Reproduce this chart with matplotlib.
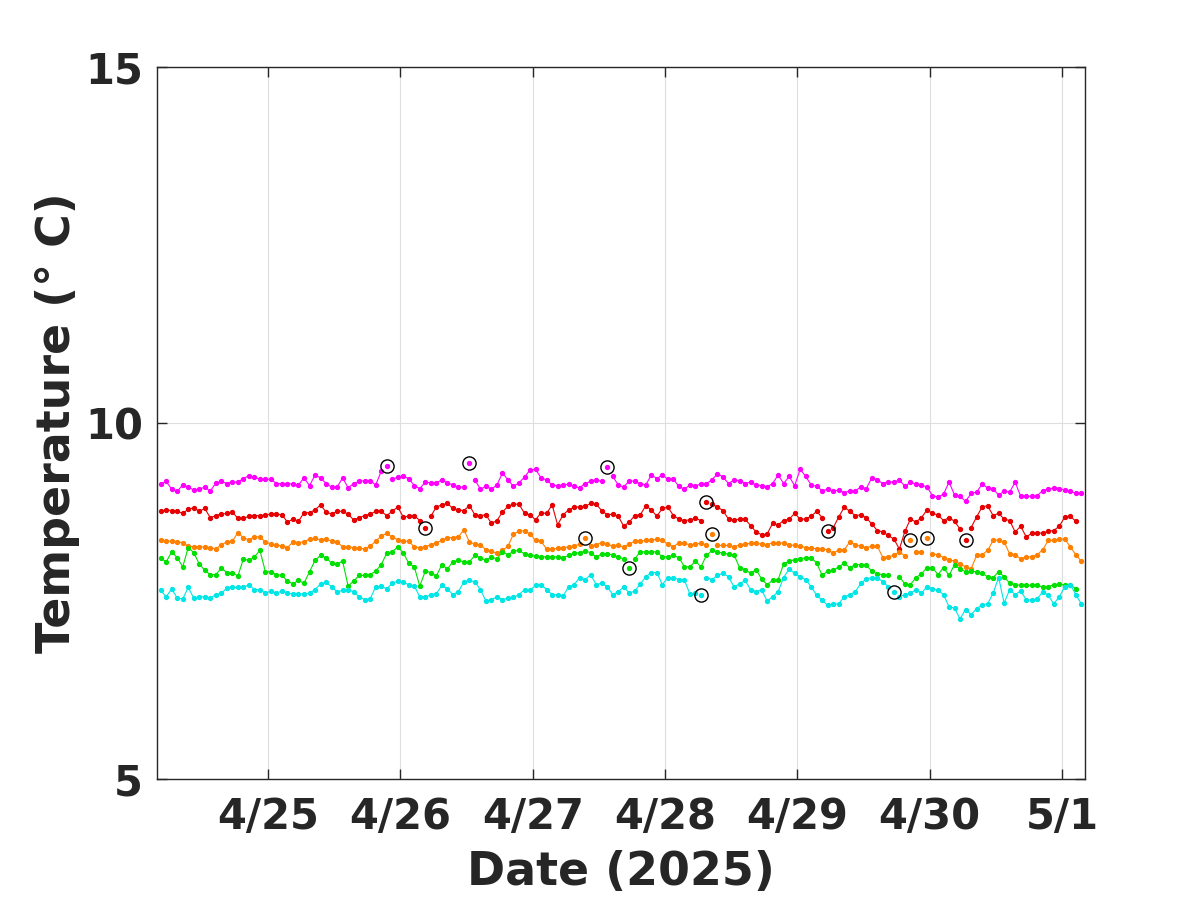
import numpy as np
import matplotlib
matplotlib.use("Agg")
import matplotlib.pyplot as plt
import matplotlib.dates as mdates
from matplotlib.ticker import FuncFormatter, FixedLocator
import datetime as dt

nan = np.nan

# ---------------- data (hourly, starting 2025-04-24 04:30) ----------------
start_time = dt.datetime(2025, 4, 24, 4, 30)
n_points = 168

magenta_vals = [
    9.14, 9.18, 9.07, 9.04, 9.13, 9.10, 9.06, 9.07, 9.10, 9.04, 9.16, 9.18, 9.15, 9.17, 9.17, 9.22, 9.26, 9.24, 9.21, 9.21, 9.21, 9.15, 9.15, 9.15, 9.14, 9.13, 9.23, 9.12, 9.27,
    9.23, 9.15, 9.10, 9.10, 9.23, 9.09, 9.15, 9.18, 9.19, 9.19, 9.13, 9.32,
    nan,
    9.21, 9.24, 9.25, 9.22, 9.12, 9.08, 9.17, 9.16, 9.16, 9.20, 9.16, 9.13, 9.10, 9.10,
    nan,
    9.20, 9.07, 9.11, 9.07, 9.13, 9.30, 9.20, 9.11, 9.16, 9.24, 9.34, 9.35, 9.23, 9.20, 9.13, 9.12, 9.13, 9.14, 9.11, 9.09, 9.15, 9.18, 9.20, 9.18,
    nan,
    9.25, 9.13, 9.10,
    9.19, 9.18, 9.15, 9.13, 9.27, 9.22, 9.27, 9.21, 9.21, 9.11, 9.07, 9.13, 9.11, 9.15, 9.15, 9.20, 9.29, 9.24, 9.15, 9.20, 9.19, 9.15, 9.17, 9.13, 9.12, 9.10, 9.15, 9.27,
    9.15, 9.25, 9.12, 9.35, 9.25, 9.13, 9.11, 9.05, 9.07, 9.04, 9.06, 9.02, 9.05, 9.05, 9.10, 9.08, 9.23, 9.20, 9.15, 9.17, 9.17, 9.20, 9.11, 9.17, 9.14, 9.13, 9.10, 8.98,
    8.96, 9.00, 9.17, 8.99, 8.97, 8.90, 9.01, 9.03, 9.14, 9.09, 9.07, 8.99, 9.04, 9.03, 9.17, 8.97, 8.97, 8.97, 8.98, 9.05, 9.07, 9.09, 9.08, 9.06, 9.04, 9.01, 9.01,
]
magenta_out_idx = [41, 56, 81]
magenta_out_val = [9.39, 9.44, 9.38]

red_vals = [
    8.76, 8.78, 8.77, 8.76, 8.73, 8.79, 8.81, 8.76, 8.80, 8.67, 8.70, 8.72, 8.73, 8.75, 8.66, 8.66, 8.69, 8.70, 8.70, 8.71, 8.72, 8.72, 8.71, 8.61, 8.65, 8.62, 8.74, 8.74, 8.78,
    8.85, 8.75, 8.72, 8.76, 8.76, 8.72, 8.64, 8.67, 8.70, 8.72, 8.76, 8.76, 8.70, 8.76, 8.82, 8.68, 8.69, 8.70, 8.63,
    nan,
    8.69, 8.82, 8.85, 8.87, 8.80, 8.78, 8.77, 8.84,
    8.71, 8.70, 8.71, 8.59, 8.63, 8.75, 8.83, 8.86, 8.86, 8.73, 8.71, 8.64, 8.74, 8.73, 8.85, 8.57, 8.71, 8.78, 8.82, 8.82, 8.83, 8.87, 8.86, 8.77, 8.71, 8.72, 8.69, 8.55,
    8.61, 8.70, 8.71, 8.84, 8.78, 8.69, 8.80, 8.82, 8.70, 8.65, 8.63, 8.64, 8.66, 8.63,
    nan,
    8.86, 8.82, 8.77, 8.65, 8.64, 8.65, 8.65, 8.56, 8.47, 8.43, 8.44, 8.59, 8.57,
    8.63, 8.65, 8.73, 8.65, 8.65, 8.69, 8.76, 8.67,
    nan,
    8.53, 8.68, 8.82, 8.76, 8.70, 8.71, 8.67, 8.58, 8.49, 8.47, 8.42, 8.37, 8.23, 8.48, 8.65, 8.61, 8.67, 8.78, 8.73,
    8.71, 8.63, 8.67, 8.62, 8.51,
    nan,
    8.53, 8.68, 8.82, 8.84, 8.70, 8.73, 8.65, 8.63, 8.47, 8.55, 8.40, 8.45, 8.46, 8.45, 8.48, 8.49, 8.55, 8.68, 8.69, 8.62,
    nan,
]
red_out_idx = [48, 99, 121, 146]
red_out_val = [8.52, 8.89, 8.49, 8.35]

orange_vals = [
    8.35, 8.34, 8.34, 8.33, 8.32, 8.27, 8.26, 8.26, 8.26, 8.25, 8.23, 8.29, 8.33, 8.34, 8.46, 8.39, 8.36, 8.40, 8.40, 8.33, 8.30, 8.29, 8.27, 8.25, 8.33, 8.32, 8.33, 8.37, 8.38,
    8.36, 8.37, 8.34, 8.33, 8.26, 8.26, 8.25, 8.24, 8.23, 8.27, 8.34, 8.41, 8.45, 8.40, 8.36, 8.34, 8.34, 8.26, 8.25, 8.26, 8.29, 8.32, 8.35, 8.39, 8.39, 8.40, 8.50, 8.33,
    8.30, 8.29, 8.22, 8.20, 8.17, 8.21, 8.27, 8.44, 8.48, 8.49, 8.44, 8.35, 8.34, 8.23, 8.23, 8.24, 8.25, 8.26, 8.27, 8.30,
    nan,
    8.27, 8.29, 8.32, 8.30, 8.27, 8.28, 8.26, 8.30, 8.34, 8.34, 8.35, 8.35, 8.37, 8.35, 8.30, 8.26, 8.32, 8.31, 8.29, 8.30, 8.31, 8.29,
    nan,
    8.28, 8.28, 8.28, 8.26, 8.29, 8.30, 8.31, 8.31, 8.30, 8.29, 8.32, 8.32,
    8.31, 8.29, 8.28, 8.27, 8.25, 8.25, 8.23, 8.23, 8.22, 8.17, 8.22, 8.22, 8.33, 8.29, 8.27, 8.25, 8.27, 8.27, 8.11, 8.12, 8.14, 8.19, 8.13,
    nan,
    8.19, 8.19,
    nan,
    8.16, 8.15, 8.11, 8.08, 8.06, 8.02, 7.98, 7.95, 8.14, 8.15, 8.21, 8.35, 8.36, 8.33, 8.16, 8.15, 8.09, 8.12, 8.12, 8.15, 8.22, 8.35, 8.35, 8.37, 8.37, 8.26, 8.15, 8.06,
]
orange_out_idx = [77, 100, 136, 139]
orange_out_val = [8.39, 8.44, 8.35, 8.38]

green_vals = [
    8.10, 8.05, 8.19, 8.11, 7.98, 8.25, 8.18, 8.02, 7.93, 7.87, 7.87, 7.96, 7.90, 7.90, 7.85, 8.09, 8.07, 8.12, 8.21, 7.91, 7.91, 7.87, 7.86, 7.78, 7.74, 7.79, 7.75, 7.91, 8.07,
    8.14, 8.11, 8.03, 8.02, 8.06, 7.71, 7.78, 7.86, 7.86, 7.87, 7.92, 8.01, 8.17, 8.19, 8.26, 8.18, 8.03, 7.98, 7.71, 7.92, 7.90, 7.85, 8.01, 7.95, 8.05, 8.07, 8.05, 8.05,
    8.14, 8.11, 8.07, 8.12, 8.09, 8.19, 8.15, 8.20, 8.21, 8.16, 8.14, 8.13, 8.12, 8.12, 8.12, 8.12, 8.11, 8.14, 8.17, 8.18, 8.20, 8.18, 8.12, 8.16, 8.16, 8.15, 8.12, 8.09,
    nan,
    8.09, 8.19, 8.19, 8.19, 8.19, 8.12, 8.12, 8.14, 8.11, 7.98, 7.98, 8.06, 7.98, 8.14, 8.21, 8.19, 8.17, 8.16, 8.15, 7.97, 7.94, 7.89, 7.94, 7.81, 7.73, 7.79, 7.80,
    8.02, 8.06, 8.08, 8.09, 8.11, 8.11, 8.03, 7.86, 7.92, 7.93, 7.98, 8.03, 7.97, 8.01, 8.01, 8.00, 7.92, 7.88, 7.87, 7.86,
    nan,
    7.84, 7.74, 7.73, 7.83, 7.88, 7.97, 7.97,
    7.87, 7.97, 7.86, 8.01, 7.95, 7.91, 7.92, 7.91, 7.89, 7.84, 7.83, 7.91, 7.84, 7.75, 7.73, 7.72, 7.72, 7.72, 7.73, 7.69, 7.70, 7.73, 7.74, 7.72, 7.73, 7.67,
    nan,
]
green_out_idx = [85]
green_out_val = [7.97]

cyan_vals = [
    7.65, 7.56, 7.67, 7.54, 7.53, 7.69, 7.54, 7.56, 7.56, 7.54, 7.59, 7.61, 7.68, 7.69, 7.69, 7.69, 7.73, 7.66, 7.66, 7.61, 7.64, 7.61, 7.64, 7.61, 7.60, 7.60, 7.60, 7.61, 7.66,
    7.74, 7.76, 7.70, 7.63, 7.65, 7.66, 7.63, 7.56, 7.52, 7.53, 7.70, 7.71, 7.67, 7.75, 7.78, 7.76, 7.73, 7.71, 7.56, 7.55, 7.59, 7.60, 7.72, 7.67, 7.59, 7.63, 7.77, 7.79,
    7.77, 7.66, 7.50, 7.52, 7.56, 7.52, 7.54, 7.55, 7.59, 7.66, 7.65, 7.72, 7.73, 7.66, 7.59, 7.59, 7.57, 7.70, 7.73, 7.83, 7.80, 7.87, 7.73, 7.75, 7.70, 7.59, 7.63, 7.70,
    7.61, 7.64, 7.74, 7.84, 7.90, 7.90, 7.73, 7.83, 7.83, 7.80, 7.79, 7.60, 7.61,
    nan,
    7.83, 7.80, 7.86, 7.89, 7.84, 7.70, 7.74, 7.79, 7.66, 7.63, 7.66, 7.50, 7.56, 7.63,
    7.83, 7.95, 7.89, 7.84, 7.80, 7.70, 7.58, 7.51, 7.44, 7.46, 7.46, 7.56, 7.59, 7.63, 7.75, 7.81, 7.83, 7.83, 7.77, 7.70,
    nan,
    7.56, 7.59, 7.61, 7.66, 7.61, 7.70, 7.67,
    7.65, 7.59, 7.42, 7.40, 7.25, 7.38, 7.31, 7.39, 7.45, 7.46, 7.61, 7.83, 7.47, 7.66, 7.59, 7.64, 7.52, 7.51, 7.53, 7.63, 7.58, 7.46, 7.56, 7.70, 7.73, 7.59, 7.46,
]
cyan_out_idx = [98, 133]
cyan_out_val = [7.59, 7.62]

x_tick_dates = [dt.datetime(2025, 4, d) for d in range(25, 31)] + [dt.datetime(2025, 5, 1)]
y_ticks = [5, 10, 15]
x_label = "Date (2025)"
y_label = "Temperature (° C)"

series = [
    (magenta_vals, magenta_out_idx, magenta_out_val, "#FF00FF"),
    (red_vals, red_out_idx, red_out_val, "#E60000"),
    (orange_vals, orange_out_idx, orange_out_val, "#FF8000"),
    (green_vals, green_out_idx, green_out_val, "#00E000"),
    (cyan_vals, cyan_out_idx, cyan_out_val, "#00E6E6"),
]
for s in series:
    assert len(s[0]) == n_points, len(s[0])

times = [start_time + dt.timedelta(hours=h) for h in range(n_points)]

# ---------------- plot ----------------
plt.rcParams['font.family'] = ['DejaVu Sans']
fig = plt.figure(figsize=(12, 9), dpi=100)
ax = fig.add_axes([157/1200, 1 - 779/900, (1085-157)/1200, (779-67)/900])

for vals, oidx, oval, col in series:
    ax.plot(times, vals, '-', color=col, lw=0.8, marker='o', ms=2.8,
            mec=col, mfc=col, zorder=3)
for vals, oidx, oval, col in series:
    ot = [times[i] for i in oidx]
    ax.plot(ot, oval, 'o', color=col, ms=2.8, mec=col, zorder=4, ls='none')
    ax.plot(ot, oval, 'o', mfc='none', mec='black', ms=9.5, mew=1.0, zorder=5, ls='none')

ax.set_ylim(5, 15)
ax.set_xlim(dt.datetime(2025, 4, 24, 3, 50), dt.datetime(2025, 5, 1, 4, 10))
ax.xaxis.set_major_locator(FixedLocator(mdates.date2num(x_tick_dates)))
ax.xaxis.set_major_formatter(FuncFormatter(
    lambda v, p: "%d/%d" % (mdates.num2date(v).month, mdates.num2date(v).day)))
ax.set_yticks(y_ticks)
ax.set_yticklabels([str(t) for t in y_ticks])

ax.grid(True, color='#dedede', lw=0.8)
ax.set_axisbelow(True)
for sp in ax.spines.values():
    sp.set_color('#262626')
    sp.set_linewidth(1.0)
ax.tick_params(axis='both', direction='in', length=7, width=1.0, colors='#262626',
               labelsize=30, top=True, right=True)
ax.tick_params(axis='x', pad=12)
ax.tick_params(axis='y', pad=10)
for lbl in ax.get_xticklabels() + ax.get_yticklabels():
    lbl.set_fontweight('bold')
ax.set_xlabel(x_label, fontsize=33, fontweight='bold', color='#262626', labelpad=9)
ax.set_ylabel(y_label, fontsize=33, fontweight='bold', color='#262626', labelpad=4)

fig.savefig("out.png", dpi=100)
